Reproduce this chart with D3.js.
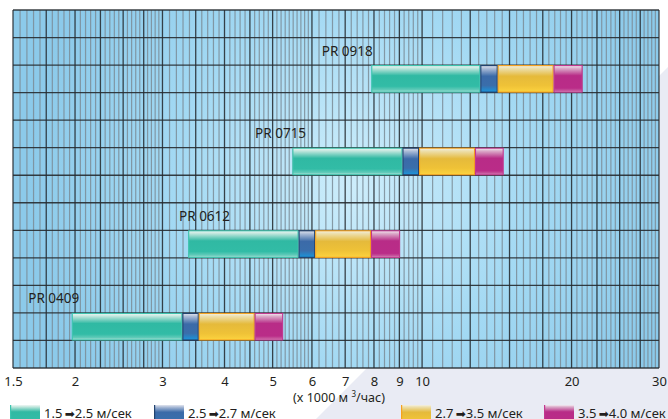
<!DOCTYPE html>
<html><head><meta charset="utf-8">
<script src="https://cdn.jsdelivr.net/npm/d3@7"></script>
<style>
body{margin:0;background:#fff}
svg{display:block}
text{font-family:"Noto Sans","Open Sans",sans-serif;fill:#231f20}
</style>
</head><body>
<svg id="c" width="668" height="419"></svg>
<script>
// ---- data ----
const models = ["PR 0409", "PR 0612", "PR 0715", "PR 0918"];
const flow15 = [1.97, 3.38, 5.48, 7.9];    // 1.5 m/s
const flow25 = [3.29, 5.64, 9.13, 13.1];   // 2.5 m/s
const flow27 = [3.55, 6.09, 9.86, 14.2];   // 2.7 m/s
const flow35 = [4.6, 7.89, 12.78, 18.4];   // 3.5 m/s
const flow40 = [5.25, 9.03, 14.6, 21.05];  // 4.0 m/s
const labelFrom = [1.61, 3.24, 4.61, 6.28];
const speedFrom = ["1.5", "2.5", "2.7", "3.5"];
const speedTo = ["2.5", "2.7", "3.5", "4.0"];
const tickValues = [1.5, 2, 3, 4, 5, 6, 7, 8, 9, 10, 20, 30];
const tickLabels = ["1.5", "2", "3", "4", "5", "6", "7", "8", "9", "10", "20", "30"];
const axisTitle = "(x 1000 м ";
const axisTitleSup = "3";
const axisTitleEnd = "/час)";

// ---- layout ----
const W = 668, H = 419;
const L = 13, R = 659, T = 10, B = 368, NROWS = 13;
const svg = d3.select("#c");
const defs = svg.append("defs");

const x = d3.scaleLog().domain([1.5, 30]).range([L, R]);
const y = d3.scaleLinear().domain([0, NROWS]).range([T, B]);

// page background shape
svg.append("polygon").attr("points", `316,${H} ${W},67 ${W},${H}`).attr("fill", "#e9ebf4");

// plot background gradient
const rg = defs.append("radialGradient").attr("id", "bg")
  .attr("gradientUnits", "userSpaceOnUse").attr("cx", 355).attr("cy", 185).attr("r", 330);
rg.append("stop").attr("offset", 0).attr("stop-color", "#cdedfb");
rg.append("stop").attr("offset", 0.55).attr("stop-color", "#a3d9f3");
rg.append("stop").attr("offset", 1).attr("stop-color", "#8ccaea");
svg.append("rect").attr("x", L).attr("y", T).attr("width", R - L).attr("height", B - T).attr("fill", "url(#bg)");

// grid values
function stepRange(a, b, s) {
  const n = Math.round((b - a) / s);
  return d3.range(0, n + 1).map(i => +(a + i * s).toFixed(4));
}
const major = Array.from(new Set([
  ...stepRange(1.5, 3, 0.25), ...stepRange(3, 5, 0.5),
  ...stepRange(5, 10, 1), ...stepRange(10, 30, 2.5)]));
const minorAll = [
  ...stepRange(1.5, 3, 0.05), ...stepRange(3, 6, 0.1),
  ...stepRange(6, 10, 0.2), ...stepRange(10, 30, 0.5)];
const minor = minorAll.filter(v => !major.some(m => Math.abs(m - v) < 1e-6));

const g = svg.append("g");
g.selectAll("line.minor").data(minor).join("line")
  .attr("x1", d => x(d)).attr("x2", d => x(d)).attr("y1", T).attr("y2", B)
  .attr("stroke", "#7b8c97").attr("stroke-opacity", 0.85).attr("stroke-width", 1.2);
g.selectAll("line.major").data(major).join("line")
  .attr("x1", d => x(d)).attr("x2", d => x(d)).attr("y1", T).attr("y2", B)
  .attr("stroke", "#262b30").attr("stroke-opacity", 0.88).attr("stroke-width", 1.3);
g.selectAll("line.h").data(d3.range(0, NROWS + 1)).join("line")
  .attr("x1", L).attr("x2", R).attr("y1", d => y(d)).attr("y2", d => y(d))
  .attr("stroke", "#262b30").attr("stroke-opacity", 0.9).attr("stroke-width", 1.3);

// gradients for segments
const palettes = [
  {id: "gTeal", stroke: "#3cc4ae", stops: [[0, "#f0f7f4"], [0.1, "#c3e7de"], [0.38, "#30b9a3"], [0.78, "#32bca6"], [0.92, "#63cbba"], [1, "#b3e4da"]]},
  {id: "gBlue", stroke: "#21426f", stops: [[0, "#e2e5ee"], [0.12, "#a9bad6"], [0.4, "#3b6aa8"], [0.75, "#3a6eab"], [1, "#1a96dc"]]},
  {id: "gYel", stroke: "#f6a21e", stops: [[0, "#f4f1e4"], [0.1, "#ede0b0"], [0.4, "#e5ba3b"], [0.75, "#efc237"], [1, "#fcd33f"]]},
  {id: "gMag", stroke: "#c2378f", stops: [[0, "#f4edf3"], [0.1, "#dcaecb"], [0.38, "#b82c87"], [0.85, "#ba2c88"], [0.95, "#c85a9f"], [1, "#e0b0cf"]]}
];
palettes.forEach(p => {
  const lg = defs.append("linearGradient").attr("id", p.id).attr("x1", 0).attr("y1", 0).attr("x2", 0).attr("y2", 1);
  p.stops.forEach(s => lg.append("stop").attr("offset", s[0]).attr("stop-color", s[1]));
});

const bounds = [flow15, flow25, flow27, flow35, flow40];
const rowOf = i => NROWS - 2 - 3 * i;
const segs = [];
models.forEach((m, i) => {
  for (let k = 0; k < 4; k++) segs.push({i, k, a: bounds[k][i], b: bounds[k + 1][i]});
});
svg.append("g").selectAll("rect").data(segs).join("rect")
  .attr("x", d => x(d.a) + 0.5).attr("y", d => y(rowOf(d.i)) + 0.5)
  .attr("width", d => x(d.b) - x(d.a) - 1).attr("height", d => y(rowOf(d.i) + 1) - y(rowOf(d.i)) - 1)
  .attr("fill", d => `url(#${palettes[d.k].id})`)
  .attr("stroke", d => palettes[d.k].stroke).attr("stroke-width", 1.1);

// model labels
svg.append("g").selectAll("text").data(models).join("text")
  .attr("x", (d, i) => x(labelFrom[i])).attr("y", (d, i) => y(rowOf(i) - 1) + 18)
  .attr("font-size", 13.5).text(d => d);

// x axis
const ax = svg.append("g").attr("transform", `translate(0,${B})`)
  .call(d3.axisBottom(x).tickValues(tickValues).tickFormat((d, i) => tickLabels[i]).tickSize(0).tickPadding(9));
ax.select(".domain").remove();
ax.selectAll("text").attr("font-size", 13).attr("font-family", '"Noto Sans",sans-serif').attr("fill", "#231f20");

// axis title
const at = svg.append("text").attr("x", 339).attr("y", 402).attr("text-anchor", "middle").attr("font-size", 12.5);
at.append("tspan").text(axisTitle);
at.append("tspan").attr("font-size", 8).attr("dy", -5).text(axisTitleSup);
at.append("tspan").attr("dy", 5).text(axisTitleEnd);

// legend
const legendX = [10, 154, 401, 544];
const lg = svg.append("g").selectAll("g").data(speedFrom).join("g")
  .attr("transform", (d, i) => `translate(${legendX[i]},405)`);
lg.append("rect").attr("width", 30).attr("height", 18)
  .attr("fill", (d, i) => `url(#${palettes[i].id})`);
lg.append("rect").attr("width", 1.2).attr("height", 18).attr("fill", (d, i) => palettes[i].stroke);
const lt = lg.append("text").attr("x", 34).attr("y", 12.6).attr("font-size", 13);
lt.append("tspan").text(d => d + " ");
lt.append("tspan").attr("font-family", '"DejaVu Sans",sans-serif').attr("font-size", 12).attr("dx", -1).text("➡");
lt.append("tspan").text((d, i) => speedTo[i] + " м/сек");
</script>
</body></html>
